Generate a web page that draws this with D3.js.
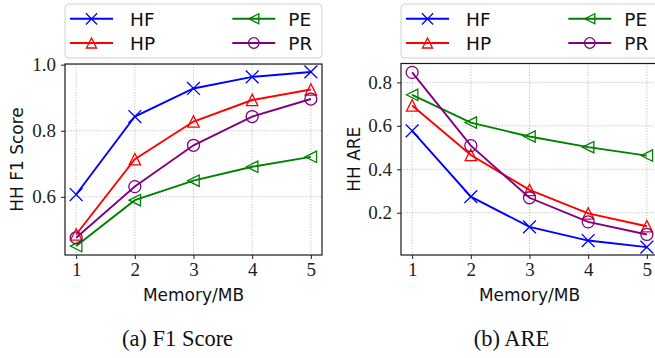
<!DOCTYPE html>
<html><head><meta charset="utf-8">
<script src="https://cdn.jsdelivr.net/npm/d3@7"></script>
<style>html,body{margin:0;padding:0;background:#fff;overflow:hidden}</style>
</head><body>
<script>
const memory = [1, 2, 3, 4, 5];
const seriesNames = ["HF", "HP", "PE", "PR"];
const f1HF = [0.607, 0.843, 0.928, 0.963, 0.978];
const f1HP = [0.486, 0.714, 0.828, 0.893, 0.925];
const f1PE = [0.451, 0.590, 0.649, 0.691, 0.721];
const f1PR = [0.476, 0.631, 0.756, 0.843, 0.896];
const areHF = [0.577, 0.274, 0.135, 0.072, 0.042];
const areHP = [0.694, 0.466, 0.305, 0.197, 0.138];
const arePE = [0.743, 0.615, 0.551, 0.502, 0.463];
const arePR = [0.846, 0.509, 0.269, 0.158, 0.100];
const f1Ticks = [0.6, 0.8, 1.0];
const areTicks = [0.2, 0.4, 0.6, 0.8];
const xTicks = [1, 2, 3, 4, 5];

const colors = {HF: "#0000ff", HP: "#ff0000", PE: "#008000", PR: "#800080"};
const markers = {HF: "x", HP: "tri_up", PE: "tri_left", PR: "circle"};

const W = 655, H = 358;
const svg = d3.select("body").append("svg").attr("width", W).attr("height", H);
const SERIF = "'Liberation Serif', 'DejaVu Serif', serif";
const SANS = "'DejaVu Sans', sans-serif";

function drawMarker(g, type, cx, cy, color, k) {
  k = k || 1;
  if (type === "x") {
    const s = 6.4 * k;
    g.append("path").attr("d", `M${cx-s},${cy-s}L${cx+s},${cy+s}M${cx-s},${cy+s}L${cx+s},${cy-s}`)
      .attr("stroke", color).attr("stroke-width", 1.3).attr("fill", "none");
  } else if (type === "tri_up") {
    const s = 5.7 * k;
    g.append("path").attr("d", `M${cx},${cy-s}L${cx-s},${cy+s}L${cx+s},${cy+s}Z`)
      .attr("stroke", color).attr("stroke-width", 1.3).attr("fill", "none");
  } else if (type === "tri_left") {
    const s = 5.7 * k;
    g.append("path").attr("d", `M${cx-s},${cy}L${cx+s},${cy-s}L${cx+s},${cy+s}Z`)
      .attr("stroke", color).attr("stroke-width", 1.3).attr("fill", "none");
  } else {
    g.append("circle").attr("cx", cx).attr("cy", cy).attr("r", 6 * k)
      .attr("stroke", color).attr("stroke-width", 1.3).attr("fill", "none");
  }
}

function panel(opts) {
  const {left, right, top, bottom, ydom, yticks, data, ylabel, ylabelX, caption, captionX} = opts;
  const g = svg.append("g");
  const x = d3.scaleLinear().domain([0.81, 5.19]).range([left, right]);
  const y = d3.scaleLinear().domain(ydom).range([bottom, top]);

  const grid = g.append("g").attr("stroke", "#b0b0b0").attr("stroke-width", 0.8).attr("stroke-dasharray", "1.2,1.6");
  xTicks.forEach(t => grid.append("line").attr("x1", x(t)).attr("x2", x(t)).attr("y1", top).attr("y2", bottom));
  yticks.forEach(t => grid.append("line").attr("x1", left).attr("x2", right).attr("y1", y(t)).attr("y2", y(t)));

  seriesNames.forEach(name => {
    const vals = data[name];
    const line = d3.line().x((d, i) => x(memory[i])).y(d => y(d));
    g.append("path").datum(vals).attr("d", line).attr("fill", "none")
      .attr("stroke", colors[name]).attr("stroke-width", 1.9);
    vals.forEach((v, i) => drawMarker(g, markers[name], x(memory[i]), y(v), colors[name]));
  });

  g.append("rect").attr("x", left).attr("y", top).attr("width", right - left).attr("height", bottom - top)
    .attr("fill", "none").attr("stroke", "#1a1a1a").attr("stroke-width", 1.2);

  const xa = g.append("g").attr("transform", `translate(0,${bottom})`)
    .call(d3.axisBottom(x).tickValues(xTicks).tickFormat(d3.format("d")).tickSize(4).tickPadding(4));
  xa.select(".domain").remove();
  xa.selectAll("text").attr("font-family", SERIF).attr("font-size", 19).attr("fill", "#222");
  xa.selectAll("line").attr("stroke", "#1a1a1a");
  const ya = g.append("g").attr("transform", `translate(${left},0)`)
    .call(d3.axisLeft(y).tickValues(yticks).tickFormat(d3.format(".1f")).tickSize(4).tickPadding(5));
  ya.select(".domain").remove();
  ya.selectAll("text").attr("font-family", SERIF).attr("font-size", 19).attr("fill", "#222");
  ya.selectAll("line").attr("stroke", "#1a1a1a");

  g.append("text").attr("x", (left + Math.min(right, 658)) / 2).attr("y", 301)
    .attr("text-anchor", "middle").attr("font-family", SANS).attr("font-size", 17).attr("fill", "#111")
    .text("Memory/MB");
  g.append("text").attr("transform", `translate(${ylabelX},${(top + bottom) / 2}) rotate(-90)`)
    .attr("text-anchor", "middle").attr("font-family", SANS).attr("font-size", 17).attr("fill", "#111")
    .text(ylabel);
  g.append("text").attr("x", captionX).attr("y", 346).attr("text-anchor", "middle")
    .attr("font-family", SERIF).attr("font-size", 22.5).attr("fill", "#111").text(caption);

  const lg = g.append("g");
  lg.append("rect").attr("x", left).attr("y", 4).attr("width", right - left).attr("height", 54)
    .attr("rx", 4).attr("fill", "#fff").attr("fill-opacity", 0.8).attr("stroke", "#d0d0d0").attr("stroke-width", 1);
  const pos = [[0, 0], [0, 1], [1, 0], [1, 1]];
  seriesNames.forEach((name, i) => {
    const [c, r] = pos[i];
    const lx = left + 5 + c * 162.3;
    const ly = 18.8 + r * 24.2;
    lg.append("line").attr("x1", lx).attr("x2", lx + 43).attr("y1", ly).attr("y2", ly)
      .attr("stroke", colors[name]).attr("stroke-width", 1.9);
    drawMarker(lg, markers[name], lx + 21.5, ly, colors[name], 0.88);
    lg.append("text").attr("x", left + 65 + c * 158.3).attr("y", ly + 6.8)
      .attr("font-family", SANS).attr("font-size", 18.5).attr("fill", "#111").text(name);
  });
}

panel({left: 65, right: 322, top: 64, bottom: 255, ydom: [0.424, 1.002], yticks: f1Ticks,
  data: {HF: f1HF, HP: f1HP, PE: f1PE, PR: f1PR}, ylabel: "HH F1 Score", ylabelX: 23,
  caption: "(a) F1 Score", captionX: 177.5});
panel({left: 401, right: 658, top: 63.5, bottom: 255, ydom: [0.0055, 0.887], yticks: areTicks,
  data: {HF: areHF, HP: areHP, PE: arePE, PR: arePR}, ylabel: "HH ARE", ylabelX: 360,
  caption: "(b) ARE", captionX: 511.5});
</script>
</body></html>
